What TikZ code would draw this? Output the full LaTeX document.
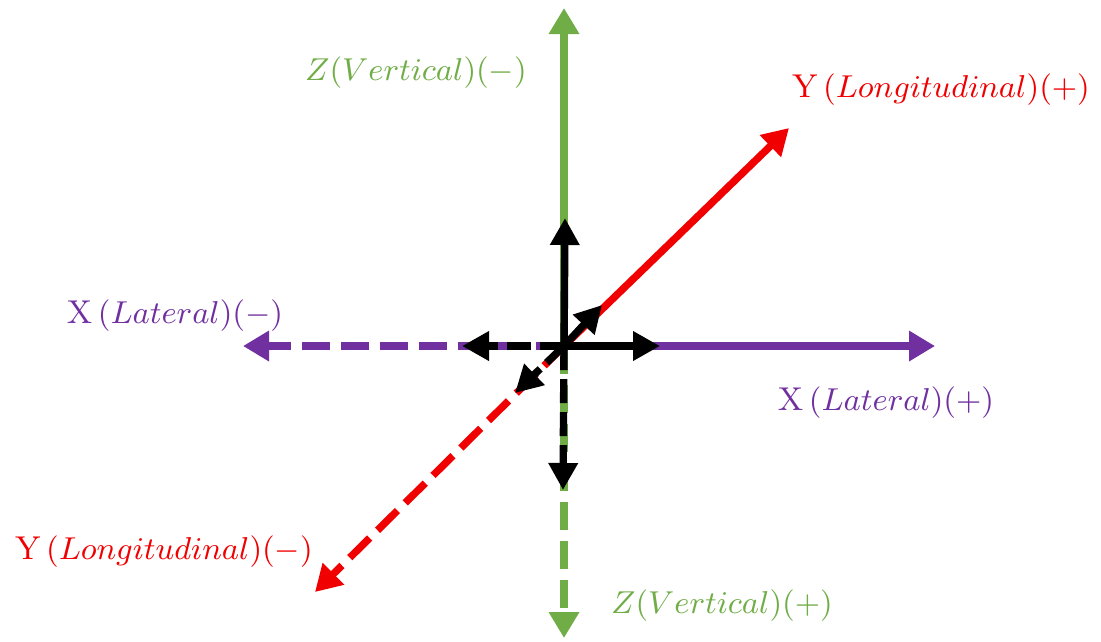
\documentclass[tikz,border=0pt]{standalone}
\usepackage{amsmath}
\usetikzlibrary{arrows.meta}
\definecolor{axgreen}{RGB}{112,173,71}
\definecolor{axpurple}{RGB}{112,48,160}
\definecolor{axred}{RGB}{240,0,0}
\tikzset{
  % --- coloured axes ----------------------------------------------------
  axis/.style    ={-{Triangle[length=2.6mm,width=2.9mm]}, line width=2.1pt},
  axisdash/.style={axis, dash pattern=on 2.8mm off 1.1mm},
  % --- black unit arrows ------------------------------------------------
  unit/.style    ={-{Triangle[length=2.7mm,width=2.8mm]}, line width=2.1pt, draw=black},
  unitdash/.style={unit, dash pattern=on 2.4mm off 0.9mm},
  % --- labels -----------------------------------------------------------
  lab/.style     ={font=\fontsize{9.4}{11}\selectfont, inner sep=0pt},
}

\begin{document}
\begin{tikzpicture}[x=0.01cm, y=-0.01cm]
  \useasboundingbox (0,0) rectangle (1101,641);

  % ============================ end points ============================
  \coordinate (o)   at (564,346);
  \coordinate (zm)  at (564,8);    % Z up
  \coordinate (zp)  at (564,638);  % Z down
  \coordinate (xp)  at (935,346);
  \coordinate (xm)  at (243,346);
  \coordinate (yp)  at (789,128);
  \coordinate (ym)  at (315,592);
  % black unit vectors
  \coordinate (uz)  at (565,218);
  \coordinate (dz)  at (563,490);
  \coordinate (ux)  at (660,346);
  \coordinate (dx)  at (462,346);
  \coordinate (uy)  at (602,305);
  \coordinate (dy)  at (515,393);

  % ============================ coloured axes ============================
  \draw[axis, draw=axgreen, -{Triangle[length=2.6mm,width=2.9mm,fill=axgreen]}] (o) -- (zm);
  \draw[axisdash, draw=axgreen, -{Triangle[length=2.6mm,width=2.9mm,fill=axgreen]}] (o) -- (zp);
  \draw[axis, draw=axpurple, -{Triangle[length=2.6mm,width=2.9mm,fill=axpurple]}] (o) -- (xp);
  \draw[axisdash, draw=axpurple, -{Triangle[length=2.6mm,width=2.9mm,fill=axpurple]}] (o) -- (xm);
  \draw[axis, draw=axred, -{Triangle[length=2.6mm,width=2.9mm,fill=axred]}] (o) -- (yp);
  \draw[axisdash, draw=axred, -{Triangle[length=2.6mm,width=2.9mm,fill=axred]}] (o) -- (ym);

  % ============================ black unit arrows ============================
  \draw[unit] (o) -- (uz);
  \draw[unitdash] (o) -- (dz);
  \draw[unit] (o) -- (ux);
  \draw[unitdash] (o) -- (dx);
  \draw[unit] (o) -- (uy);
  \draw[unitdash] (o) -- (dy);

  % ============================ labels ============================
  \node[lab, text=axgreen]  (lzm) at (416,73)  {$Z(Vertical)(-)$};
  \node[lab, text=axgreen]  (lzp) at (722,606) {$Z(Vertical)(+)$};
  \node[lab, text=axred]    (lyp) at (941,90)  {Y\,$(Longitudinal)(+)$};
  \node[lab, text=axred]    (lym) at (164,552) {Y\,$(Longitudinal)(-)$};
  \node[lab, text=axpurple] (lxm) at (175,316) {X\,$(Lateral)(-)$};
  \node[lab, text=axpurple] (lxp) at (886,403) {X\,$(Lateral)(+)$};

\end{tikzpicture}
\end{document}
